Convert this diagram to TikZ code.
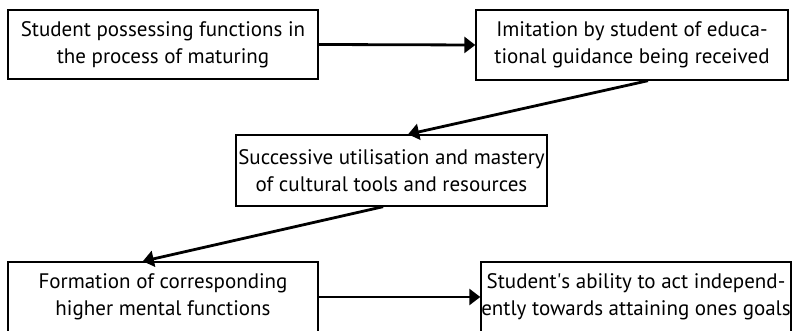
\documentclass[tikz,border=0pt]{standalone}
\usepackage{fontspec}
\setmainfont{PT Sans}
\usetikzlibrary{calc,arrows.meta}
\begin{document}
\begin{tikzpicture}[x=1pt,y=1pt,
  box/.style={draw=black,line width=1.4pt,inner sep=0pt,align=center,
    font=\fontsize{21}{27}\selectfont},
  conn/.style={line width=2.8pt,-{Triangle[length=11pt,width=16pt]}}]
\useasboundingbox (0,0) rectangle (792,331);
\node[box,minimum width=310pt,minimum height=69pt] (b1) at (163,286.5)
  {Student possessing functions in\\the process of maturing};
\node[box,minimum width=312pt,minimum height=70pt] (b2) at (632,286)
  {Imitation by student of educa-\\tional guidance being received};
\node[box,minimum width=311pt,minimum height=71pt] (b3) at (391.5,160.5)
  {Successive utilisation and mastery\\of cultural tools and resources};
\node[box,minimum width=310pt,minimum height=70pt] (b4) at (163,34)
  {Formation of corresponding\\higher mental functions};
\node[box,minimum width=310pt,minimum height=70pt] (b5) at (636,34)
  {Student\textquotesingle s ability to act independ-\\ently towards attaining ones goals};
\draw[conn] (b1.east) -- (b2.west);
\draw[conn] ($(b2.south west)!0.551!(b2.south east)$) -- ($(b3.north west)!0.553!(b3.north east)$);
\draw[conn] ($(b3.south west)!0.473!(b3.south east)$) -- ($(b4.north west)!0.435!(b4.north east)$);
\draw[conn] (b4.east) -- (b5.west);
\end{tikzpicture}
\end{document}
